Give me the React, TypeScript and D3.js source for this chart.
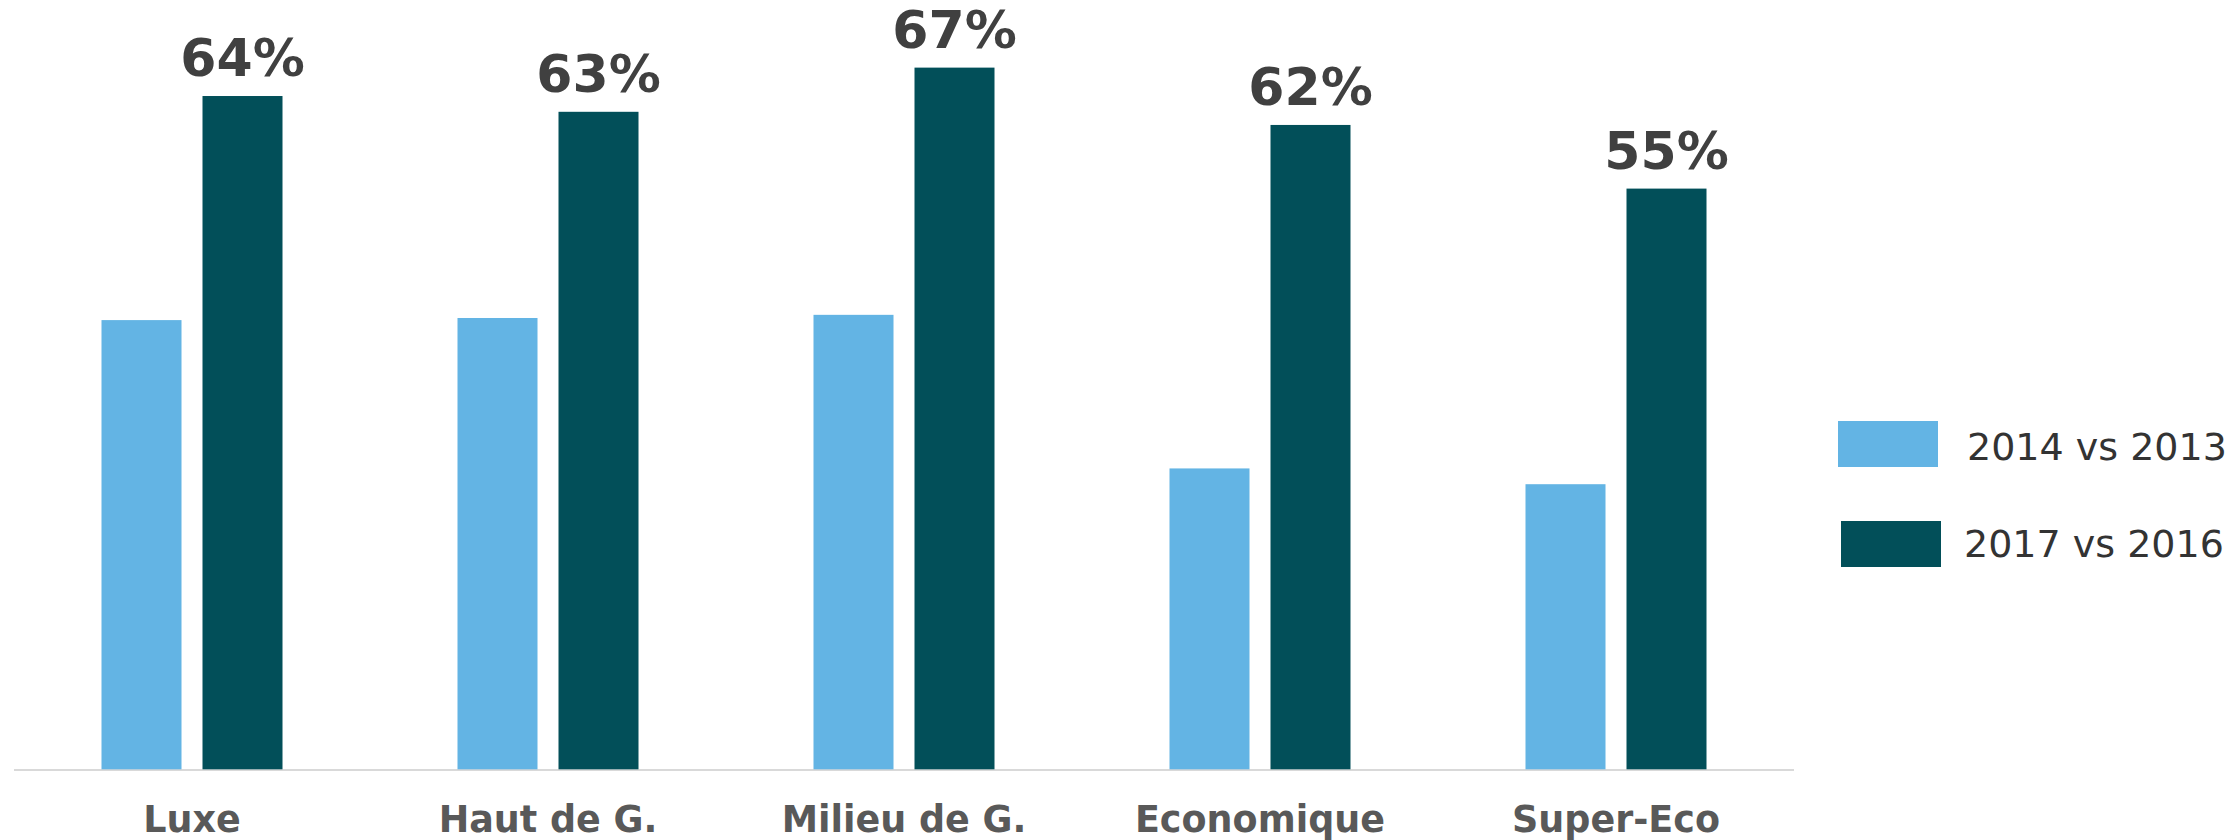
import React from "react";
import * as d3 from "d3";

const categories = ["Luxe", "Haut de G.", "Milieu de G.", "Economique", "Super-Eco"];
const seriesNames = ["2014 vs 2013", "2017 vs 2016"];
const values2014 = [42.7, 42.9, 43.2, 28.6, 27.1];
const values2017 = [64.0, 62.5, 66.7, 61.25, 55.2];
const labels2017 = ["64%", "63%", "67%", "62%", "55%"];
const colors = ["#63B4E4", "#024F59"];

const W = 2233;
const H = 840;

export default function App() {
  const x0 = d3.scaleBand<string>().domain(categories).range([14, 1794]).paddingInner(0).paddingOuter(0);
  const groupW = 181;
  const x1 = d3.scaleBand<string>().domain(seriesNames).range([0, groupW]).paddingInner(21 / 101);
  const y = d3.scaleLinear().domain([0, 70]).range([769.3, 769.3 - 70 * 10.52]);
  const seriesVals = [values2014, values2017];

  const legendRects = [
    { x: 1838, y: 421, w: 100, h: 46, tx: 1967, ty: 460 },
    { x: 1841, y: 521, w: 100, h: 46, tx: 1964, ty: 557 },
  ];

  return (
    <svg width={W} height={H} style={{ position: "absolute", left: 0, top: 0, background: "#fff" }}>
      <line x1={14} x2={1794} y1={770} y2={770} stroke="#D9D9D9" strokeWidth={2} />
      {categories.map((c, i) => {
        const gx = (x0(c) as number) + x0.bandwidth() / 2 - groupW / 2;
        return (
          <g key={c}>
            {seriesNames.map((s, j) => {
              const v = seriesVals[j][i];
              const bx = gx + (x1(s) as number);
              return (
                <rect key={s} x={bx} y={y(v)} width={x1.bandwidth()} height={y(0) - y(v)} fill={colors[j]} />
              );
            })}
            <text
              x={gx + (x1(seriesNames[1]) as number) + x1.bandwidth() / 2}
              y={y(values2017[i]) - 20}
              textAnchor="middle"
              fontFamily="DejaVu Sans"
              fontWeight="bold"
              fontSize={52}
              fill="#404040"
            >
              {labels2017[i]}
            </text>
            <text
              x={(x0(c) as number) + x0.bandwidth() / 2}
              y={832}
              textAnchor="middle"
              fontFamily="DejaVu Sans"
              fontWeight="bold"
              fontSize={36.5}
              fill="#595959"
            >
              {c}
            </text>
          </g>
        );
      })}
      {seriesNames.map((s, j) => (
        <g key={s}>
          <rect x={legendRects[j].x} y={legendRects[j].y} width={legendRects[j].w} height={legendRects[j].h} fill={colors[j]} />
          <text x={legendRects[j].tx} y={legendRects[j].ty} fontFamily="DejaVu Sans" fontSize={38} fill="#333333">
            {s}
          </text>
        </g>
      ))}
    </svg>
  );
}
